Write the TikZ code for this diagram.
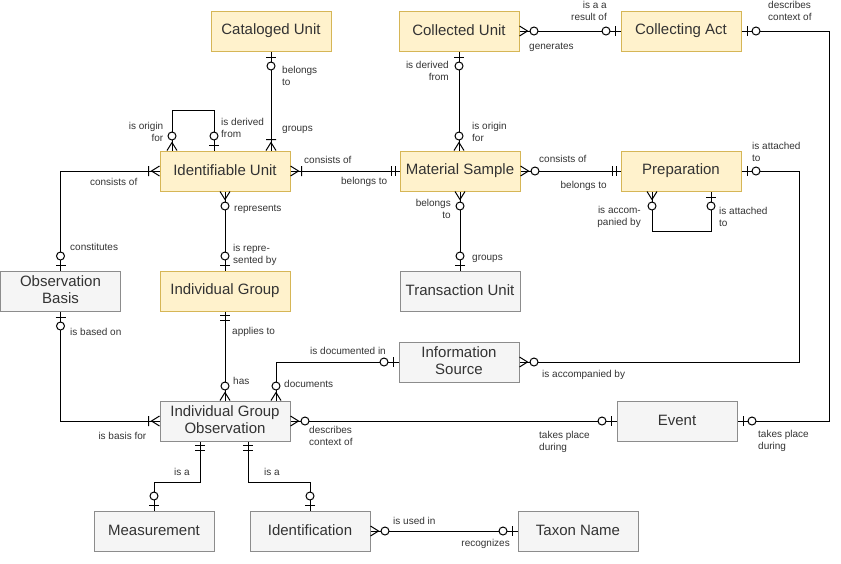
\documentclass[tikz,border=0pt]{standalone}
\usepackage{fontspec}
\setmainfont{Liberation Sans}
\usetikzlibrary{arrows.meta, positioning, calc}
\definecolor{unitFill}{HTML}{FFF2CC}
\definecolor{unitDraw}{HTML}{D6B656}
\definecolor{infoFill}{HTML}{F5F5F5}
\definecolor{infoDraw}{HTML}{8C8C8C}
\definecolor{textGray}{HTML}{333333}

% Crow's foot ends
\pgfdeclarearrow{
    name = zeroMany,
    cache = false,
    setup code = {
        \pgfarrowssettipend{0pt}
        \pgfarrowssetlineend{0pt}
        \pgfarrowssetbackend{-19pt}
        \pgfarrowshullpoint{0pt}{5pt}
        \pgfarrowshullpoint{0pt}{-5pt}
        \pgfarrowshullpoint{-19pt}{0pt}
    },
    drawing code = {
        \pgfpathmoveto{\pgfqpoint{0pt}{5pt}}
        \pgfpathlineto{\pgfqpoint{-8pt}{0pt}}
        \pgfpathlineto{\pgfqpoint{0pt}{-5pt}}
        \pgfusepathqstroke
        \pgfpathcircle{\pgfqpoint{-14.5pt}{0pt}}{4pt}
        \pgfsetfillcolor{white}
        \pgfusepathqfillstroke
    }
}
\pgfdeclarearrow{
    name = oneMany,
    cache = false,
    setup code = {
        \pgfarrowssettipend{0pt}
        \pgfarrowssetlineend{0pt}
        \pgfarrowssetbackend{-11pt}
        \pgfarrowshullpoint{0pt}{5pt}
        \pgfarrowshullpoint{0pt}{-5pt}
        \pgfarrowshullpoint{-11pt}{0pt}
    },
    drawing code = {
        \pgfpathmoveto{\pgfqpoint{0pt}{5pt}}
        \pgfpathlineto{\pgfqpoint{-8pt}{0pt}}
        \pgfpathlineto{\pgfqpoint{0pt}{-5pt}}
        \pgfpathmoveto{\pgfqpoint{-11pt}{5pt}}
        \pgfpathlineto{\pgfqpoint{-11pt}{-5pt}}
        \pgfusepathqstroke
    }
}
\pgfdeclarearrow{
    name = zeroOne,
    cache = false,
    setup code = {
        \pgfarrowssettipend{0pt}
        \pgfarrowssetlineend{0pt}
        \pgfarrowssetbackend{-19pt}
        \pgfarrowshullpoint{0pt}{5pt}
        \pgfarrowshullpoint{0pt}{-5pt}
        \pgfarrowshullpoint{-19pt}{0pt}
    },
    drawing code = {
        \pgfpathmoveto{\pgfqpoint{-5.5pt}{5pt}}
        \pgfpathlineto{\pgfqpoint{-5.5pt}{-5pt}}
        \pgfusepathqstroke
        \pgfpathcircle{\pgfqpoint{-14.5pt}{0pt}}{4pt}
        \pgfsetfillcolor{white}
        \pgfusepathqfillstroke
    }
}
\pgfdeclarearrow{
    name = exactlyOne,
    cache = false,
    setup code = {
        \pgfarrowssettipend{0pt}
        \pgfarrowssetlineend{0pt}
        \pgfarrowssetbackend{-9pt}
        \pgfarrowshullpoint{0pt}{5pt}
        \pgfarrowshullpoint{-9pt}{-5pt}
    },
    drawing code = {
        \pgfpathmoveto{\pgfqpoint{-4pt}{5pt}}
        \pgfpathlineto{\pgfqpoint{-4pt}{-5pt}}
        \pgfpathmoveto{\pgfqpoint{-8.5pt}{5pt}}
        \pgfpathlineto{\pgfqpoint{-8.5pt}{-5pt}}
        \pgfusepathqstroke
    }
}

\tikzset{
    unitBox/.style={draw=unitDraw, fill=unitFill, line width=1pt, minimum width=120pt, minimum height=40pt,
        inner sep=2pt, align=center, text=textGray, font=\fontsize{15}{17.5}\selectfont,
        execute at begin node={\rule{0pt}{11pt}}, execute at end node={\rule[-3pt]{0pt}{3pt}}},
    wideBox/.style={minimum width=130pt},
    infoBox/.style={unitBox, draw=infoDraw, fill=infoFill},
    relLine/.style={draw=black, line width=1pt},
    relLabel/.style={inner sep=0pt, text=textGray, font=\fontsize{10}{12}\selectfont,
        execute at begin node={\rule{0pt}{7.5pt}}},
    lblRight/.style={relLabel, anchor=north west, align=left},
    lblLeft/.style={relLabel, anchor=north east, align=right}
}

\begin{document}
\begin{tikzpicture}[x=1pt, y=-1pt]
    \useasboundingbox (0,0) rectangle (841,563);

    % Entities
    \node[unitBox] (cataloged) at (271,31) {Cataloged Unit};
    \node[unitBox] (collected) at (459,31) {Collected Unit};
    \node[unitBox] (collecting) at (681,31) {Collecting Act};
    \node[unitBox, wideBox] (identifiable) at (225,171) {Identifiable Unit};
    \node[unitBox] (material) at (460,171) {Material Sample};
    \node[unitBox] (preparation) at (681,171) {Preparation};
    \node[infoBox] (basis) at (60.5,291) {Observation\\Basis};
    \node[unitBox, wideBox] (group) at (225,291) {Individual Group};
    \node[infoBox] (transaction) at (460,291) {Transaction Unit};
    \node[infoBox] (source) at (459,362) {Information\\Source};
    \node[infoBox, wideBox] (observation) at (225,421) {Individual Group\\Observation};
    \node[infoBox] (event) at (677,421) {Event};
    \node[infoBox] (measurement) at (154,531) {Measurement};
    \node[infoBox] (identification) at (310,531) {Identification};
    \node[infoBox] (taxon) at (578,531) {Taxon Name};

    % Relations of the top rows
    \draw[relLine, {zeroOne}-{oneMany}] (cataloged.south) -- (cataloged.south |- identifiable.north);
    \draw[relLine, {zeroMany}-{zeroOne}] ([xshift=-53pt]identifiable.north) -- ++(0,-40) -| ([xshift=-11pt]identifiable.north);
    \draw[relLine, {oneMany}-{exactlyOne}] (identifiable.east) -- (material.west);
    \draw[relLine, {oneMany}-{zeroOne}] (identifiable.west) -| (basis.north);
    \draw[relLine, {zeroMany}-{zeroOne}] (identifiable.south) -- (group.north);
    \draw[relLine, {zeroOne}-{zeroMany}] (collected.south) -- (collected.south |- material.north);
    \draw[relLine, {zeroMany}-{zeroOne}] (collected.east) -- (collecting.west);
    \draw[relLine, {zeroOne}-{zeroOne}] (collecting.east) -- ++(88,0) |- (event.east);
    \draw[relLine, {zeroMany}-{exactlyOne}] (material.east) -- (preparation.west);
    \draw[relLine, {zeroMany}-{zeroOne}] (material.south) -- (transaction.north);
    \draw[relLine, {zeroMany}-{zeroOne}] ([xshift=-29pt]preparation.south) -- ++(0,40) -| ([xshift=30pt]preparation.south);
    \draw[relLine, {zeroOne}-{zeroMany}] (preparation.east) -- ++(58,0) |- (source.east);

    % Relations of the observation
    \draw[relLine, {zeroOne}-{zeroMany}] (source.west) -| ([xshift=51pt]observation.north);
    \draw[relLine, {exactlyOne}-{zeroMany}] (group.south) -- (observation.north);
    \draw[relLine, {zeroOne}-{oneMany}] (basis.south) |- (observation.west);
    \draw[relLine, {zeroMany}-{zeroOne}] (observation.east) -- (event.west);
    \draw[relLine, {exactlyOne}-{zeroOne}] ([xshift=-25pt]observation.south) -- ++(0,41) -| (measurement.north);
    \draw[relLine, {exactlyOne}-{zeroOne}] ([xshift=23pt]observation.south) -- ++(0,41) -| (identification.north);
    \draw[relLine, {zeroMany}-{zeroOne}] (identification.east) -- (taxon.west);

    % Labels
    \node[lblRight] (lCatA) at (282,66.5) {belongs\\to};
    \node[lblRight] (lCatB) at (282,124) {groups};
    \node[lblLeft] (lSelfA) at (163.5,122) {is origin\\for};
    \node[lblRight] (lSelfB) at (221,118.5) {is derived\\from};
    \node[lblRight] (lMatA) at (304,156) {consists of};
    \node[lblLeft] (lMatB) at (387.5,177) {belongs to};
    \node[lblLeft] (lBasA) at (137.5,178) {consists of};
    \node[lblRight] (lBasB) at (70,243) {constitutes};
    \node[lblRight] (lGrpA) at (234,204) {represents};
    \node[lblRight] (lGrpB) at (233,244) {is repre-\\sented by};
    \node[lblLeft] (lColA) at (449,61) {is derived\\from};
    \node[lblRight] (lColB) at (472,122.5) {is origin\\for};
    \node[lblRight] (lActA) at (529,42) {generates};
    \node[lblLeft] (lActB) at (607,1.5) {is a a\\result of};
    \node[lblRight] (lEvtA) at (768,1.5) {describes\\context of};
    \node[lblRight] (lEvtB) at (758,430) {takes place\\during};
    \node[lblRight] (lPrepA) at (539,155) {consists of};
    \node[lblLeft] (lPrepB) at (607,181) {belongs to};
    \node[lblLeft] (lTraA) at (451,199) {belongs\\to};
    \node[lblRight] (lTraB) at (472,252.5) {groups};
    \node[lblLeft] (lLoopA) at (641,206.5) {is accom-\\panied by};
    \node[lblRight] (lLoopB) at (719,207) {is attached\\to};
    \node[lblRight] (lSrcA) at (752,142) {is attached\\to};
    \node[lblRight] (lSrcB) at (542,370) {is accompanied by};
    \node[lblLeft] (lDocA) at (386,347) {is documented in};
    \node[lblRight] (lDocB) at (284,380) {documents};
    \node[lblRight] (lObsA) at (232,327) {applies to};
    \node[lblRight] (lObsB) at (233,377) {has};
    \node[lblRight] (lBasC) at (70,328) {is based on};
    \node[lblLeft] (lBasD) at (146.5,432) {is basis for};
    \node[lblRight] (lCtxA) at (309,426) {describes\\context of};
    \node[lblRight] (lCtxB) at (539,431) {takes place\\during};
    \node[lblLeft] (lMeas) at (190,468) {is a};
    \node[lblRight] (lIdf) at (264,468) {is a};
    \node[lblRight] (lTaxA) at (393,517) {is used in};
    \node[lblLeft] (lTaxB) at (510,538.5) {recognizes};
\end{tikzpicture}
\end{document}
